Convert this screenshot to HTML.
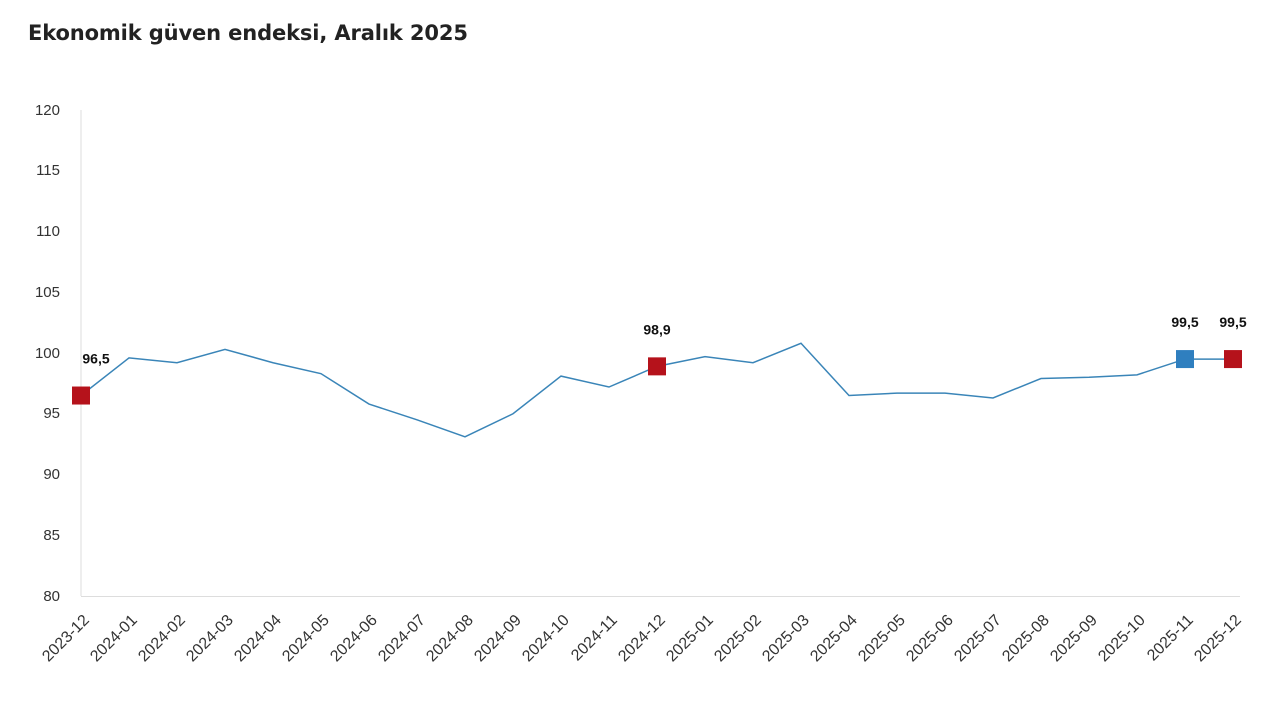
<!DOCTYPE html>
<html><head><meta charset="utf-8"><style>
body{margin:0;background:#fff;}
svg{display:block;font-family:"Liberation Sans","DejaVu Sans",sans-serif;}
</style></head><body>
<svg width="1280" height="707" viewBox="0 0 1280 707">
<text x="28" y="40" font-size="21" font-weight="bold" fill="#222" font-family="'DejaVu Sans','Liberation Sans',sans-serif" textLength="440">Ekonomik güven endeksi, Aralık 2025</text>
<g font-size="15" fill="#333" text-anchor="end">
<text x="60" y="601">80</text>
<text x="60" y="540">85</text>
<text x="60" y="479">90</text>
<text x="60" y="418">95</text>
<text x="60" y="358">100</text>
<text x="60" y="297">105</text>
<text x="60" y="236">110</text>
<text x="60" y="175">115</text>
<text x="60" y="115">120</text>
</g>
<line x1="81" y1="110" x2="81" y2="596" stroke="#ddd"/>
<line x1="81" y1="596.5" x2="1240" y2="596.5" stroke="#ddd"/>
<g id="xl" font-size="16" fill="#333" text-anchor="end"></g>
<polyline id="ln" fill="none" stroke="#3a85b8" stroke-width="1.5"/>
<g id="mk"></g>
</svg>
<script>
var v=[96.5,99.6,99.2,100.3,99.2,98.3,95.8,94.5,93.1,95.0,98.1,97.2,98.9,99.7,99.2,100.8,96.5,96.7,96.7,96.3,97.9,98.0,98.2,99.5,99.5];
var lab=[],y=2023,m=12;
for(var i=0;i<25;i++){lab.push(y+"-"+(m<10?"0"+m:m));m++;if(m>12){m=1;y++;}}
function X(i){return 81+i*48;}function Y(d){return 596-(d-80)*12.15;}
var pts=v.map(function(d,i){return X(i)+","+Y(d)}).join(" ");
document.getElementById("ln").setAttribute("points",pts);
var ns="http://www.w3.org/2000/svg",xl=document.getElementById("xl"),mk=document.getElementById("mk");
lab.forEach(function(l,i){var t=document.createElementNS(ns,"text");t.setAttribute("transform","translate("+(X(i)+9)+",621) rotate(-45)");t.textContent=l;xl.appendChild(t);});
[[0,"#b5121b","96,5",15,-32],[12,"#b5121b","98,9",0,-32],[23,"#2f7fbf","99,5",0,-32],[24,"#b5121b","99,5",0,-32]].forEach(function(a){
var x=X(a[0]),yy=Y(v[a[0]]);var r=document.createElementNS(ns,"rect");
r.setAttribute("x",x-9);r.setAttribute("y",yy-9);r.setAttribute("width",18);r.setAttribute("height",18);r.setAttribute("fill",a[1]);mk.appendChild(r);
var t=document.createElementNS(ns,"text");t.setAttribute("x",x+a[3]);t.setAttribute("y",yy+a[4]);t.setAttribute("text-anchor","middle");t.setAttribute("font-size","14");t.setAttribute("font-weight","bold");t.setAttribute("fill","#111");t.textContent=a[2];mk.appendChild(t);});
</script>
</body></html>
